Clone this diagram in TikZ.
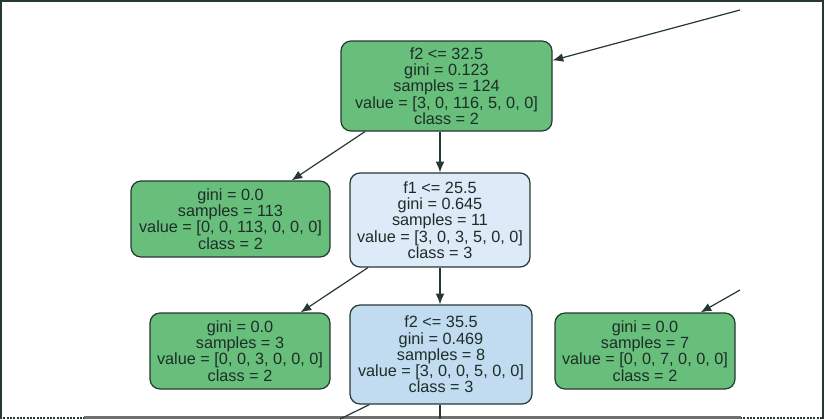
\documentclass[tikz,border=0pt]{standalone}
\usepackage{fontspec}
\setmainfont{Liberation Sans}
\usetikzlibrary{arrows.meta,calc}
\definecolor{leafgreen}{RGB}{103,191,123}
\definecolor{paleblue}{RGB}{221,234,247}
\definecolor{midblue}{RGB}{193,220,240}
\definecolor{edgedark}{RGB}{38,56,50}
\definecolor{txt}{RGB}{30,45,40}
\definecolor{framegray}{RGB}{110,112,112}
\begin{document}
\begin{tikzpicture}[x=0.75pt,y=-0.75pt,
  treenode/.style={draw=edgedark,line width=0.9pt,rounded corners=7.5pt,align=center,
    text=txt,font=\fontsize{12.2}{12.2}\selectfont,inner sep=0pt},
  greenbox/.style={treenode,fill=leafgreen},
  edge/.style={draw=edgedark,line width=0.9pt,-{Latex[length=8pt,width=6.5pt]}},
  plainedge/.style={draw=edgedark,line width=0.9pt}]
\useasboundingbox (0,0) rectangle (825,419);
% frame
\draw[edgedark,line width=1.5pt] (0.75,419) -- (0.75,0.75) -- (823,0.75) -- (823,419);
\draw[edgedark,line width=1.5pt,densely dotted] (0,417.5) -- (823,417.5);
\draw[framegray,line width=1.8pt] (84,417.5) -- (741,417.5);
% nodes
\node[greenbox,minimum width=211*0.75pt,minimum height=90*0.75pt] (root) at (446.5,86)
  {f2 <= 32.5\\gini = 0.123\\samples = 124\\value = [3, 0, 116, 5, 0, 0]\\class = 2};
\node[greenbox,minimum width=199*0.75pt,minimum height=76*0.75pt] (leafa) at (230.5,219)
  {gini = 0.0\\samples = 113\\value = [0, 0, 113, 0, 0, 0]\\class = 2};
\node[treenode,fill=paleblue,minimum width=180*0.75pt,minimum height=94*0.75pt] (mid) at (440,220)
  {f1 <= 25.5\\gini = 0.645\\samples = 11\\value = [3, 0, 3, 5, 0, 0]\\class = 3};
\node[greenbox,minimum width=180*0.75pt,minimum height=76*0.75pt] (leafb) at (240,351)
  {gini = 0.0\\samples = 3\\value = [0, 0, 3, 0, 0, 0]\\class = 2};
\node[treenode,fill=midblue,minimum width=182*0.75pt,minimum height=99*0.75pt] (low) at (441,354.5)
  {f2 <= 35.5\\gini = 0.469\\samples = 8\\value = [3, 0, 0, 5, 0, 0]\\class = 3};
\node[greenbox,minimum width=180*0.75pt,minimum height=76*0.75pt] (leafc) at (645,351)
  {gini = 0.0\\samples = 7\\value = [0, 0, 7, 0, 0, 0]\\class = 2};
% free ends
\coordinate (inroot) at (740,10);
\coordinate (inleafc) at (740,290);
\coordinate (outa) at (340,419);
\coordinate (outb) at (440,419);
% connectors
\draw[edge] (inroot) -- ($(root.north east)+(0,20)$);
\draw[edge] ($(root.south)+(-81.5,0)$) -- ($(leafa.north east)+(-39,0)$);
\draw[edge] (root.south -| mid.north) -- (mid.north);
\draw[edge] ($(mid.south)+(-72,0)$) -- ($(leafb.north east)+(-30,0)$);
\draw[edge] (mid.south) -- (mid.south |- low.north);
\draw[edge] (inleafc) -- ($(leafc.north east)+(-35,0)$);
\draw[plainedge] ($(low.south west)+(20,0)$) -- (outa);
\draw[plainedge] (low.south -| outb) -- (outb);
\end{tikzpicture}
\end{document}
